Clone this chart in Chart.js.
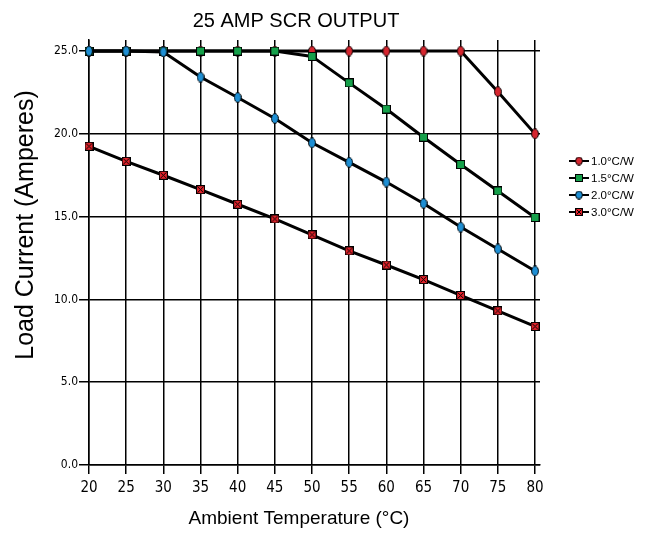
<!DOCTYPE html>
<html>
<head>
<meta charset="utf-8">
<title>25 AMP SCR OUTPUT</title>
<script src="https://cdn.jsdelivr.net/npm/chart.js@4/dist/chart.umd.min.js"></script>
<style>
    html, body { margin: 0; padding: 0; background: #fff; }
    #wrap { width: 648px; height: 533px; }
</style>
</head>
<body>
<div id="wrap"><canvas id="scrGraph"></canvas></div>
<script>
// values
const chartTitle = "25 AMP SCR OUTPUT";
const xTitle = "Ambient Temperature (°C)";
const yTitle = "Load Current (Amperes)";
const temps = [20, 25, 30, 35, 40, 45, 50, 55, 60, 65, 70, 75, 80];
const amps10 = [25, 25, 25, 25, 25, 25, 25, 25, 25, 25, 25, 22.55, 20.0];
const amps15 = [25, 25, 25, 25, 25, 25, 24.68, 23.08, 21.5, 19.8, 18.15, 16.55, 14.95];
const amps20 = [25, 25, 24.95, 23.43, 22.2, 20.93, 19.46, 18.28, 17.09, 15.8, 14.37, 13.05, 11.72];
const amps30 = [19.25, 18.34, 17.5, 16.63, 15.75, 14.86, 13.9, 12.93, 12.08, 11.2, 10.24, 9.31, 8.37];
const seriesNames = ["1.0°C/W", "1.5°C/W", "2.0°C/W", "3.0°C/W"];

const narrow = '"Liberation Sans Narrow", "DejaVu Sans Condensed", "Arial Narrow", "Liberation Sans", sans-serif';
const plain = '"Liberation Sans", Arial, Helvetica, sans-serif';

// little canvas markers, used for the points and the legend
function makeMarker(kind, fill, w, h) {
    const c = document.createElement('canvas');
    c.width = w;
    c.height = h;
    const g = c.getContext('2d');
    g.fillStyle = fill;
    g.strokeStyle = '#000';
    g.lineWidth = 1;
    if (kind === 'ellipse') {
        g.beginPath();
        g.ellipse(w / 2, h / 2, w / 2 - 0.6, h / 2 - 0.6, 0, 0, Math.PI * 2);
        g.fill();
        g.stroke();
    } else {
        g.fillRect(0.5, 0.5, w - 1, h - 1);
        g.strokeRect(0.5, 0.5, w - 1, h - 1);
        if (kind === 'xbox') {
            g.beginPath();
            g.moveTo(1.5, 1.5); g.lineTo(w - 1.5, h - 1.5);
            g.moveTo(w - 1.5, 1.5); g.lineTo(1.5, h - 1.5);
            g.stroke();
        }
    }
    return c;
}

const markers = [
    makeMarker('ellipse', '#d6262f', 8, 11),
    makeMarker('square', '#15a04a', 9, 9),
    makeMarker('ellipse', '#1e8fd4', 8, 11),
    makeMarker('xbox', '#e2232b', 9, 9)
];
const legendMarkers = [
    makeMarker('ellipse', '#d6262f', 8, 9),
    makeMarker('square', '#15a04a', 8, 8),
    makeMarker('ellipse', '#1e8fd4', 8, 9),
    makeMarker('xbox', '#e2232b', 8, 8)
];

function toPoints(values) {
    return temps.map((t, i) => ({ x: t, y: values[i] }));
}

const seriesValues = [amps10, amps15, amps20, amps30];
const datasets = seriesValues.map((vals, i) => ({
    label: seriesNames[i],
    data: toPoints(vals),
    borderColor: '#000',
    borderWidth: 3,
    pointStyle: markers[i],
    pointRadius: 5,
    pointHoverRadius: 5,
    order: [4, 3, 2, 1][i], // blue over green over red, like the original
    clip: false
}));

// titles and the legend are placed by hand to sit where the original has them
const textPlugin = {
    id: 'scrText',
    afterDraw(chart) {
        const ctx = chart.ctx;
        ctx.save();
        ctx.fillStyle = '#000';
        ctx.textAlign = 'center';
        ctx.textBaseline = 'alphabetic';

        ctx.font = '20px ' + plain;
        ctx.fillText(chartTitle, 296, 27);

        ctx.font = '19px ' + plain;
        ctx.fillText(xTitle, 299, 524);

        ctx.save();
        ctx.translate(33, 225);
        ctx.rotate(-Math.PI / 2);
        ctx.font = '25px ' + plain;
        ctx.fillText(yTitle, 0, 0);
        ctx.restore();

        // legend
        const legendY = [161, 178, 195, 212];
        ctx.textAlign = 'left';
        ctx.textBaseline = 'middle';
        ctx.font = '11.5px ' + plain;
        seriesNames.forEach((name, i) => {
            const y = legendY[i];
            ctx.strokeStyle = '#000';
            ctx.lineWidth = 2;
            ctx.beginPath();
            ctx.moveTo(569, y);
            ctx.lineTo(589, y);
            ctx.stroke();
            const m = legendMarkers[i];
            ctx.drawImage(m, 579 - m.width / 2, y - m.height / 2);
            ctx.fillText(name, 591, y + 1);
        });
        ctx.restore();
    }
};

const chart = new Chart(document.getElementById('scrGraph'), {
    type: 'line',
    data: { datasets: datasets },
    options: {
        responsive: true,
        maintainAspectRatio: false,
        animation: false,
        layout: {
            padding: { left: 40, right: 108, top: 40, bottom: 28 }
        },
        plugins: {
            legend: { display: false },
            title: { display: false },
            tooltip: { enabled: false }
        },
        scales: {
            x: {
                type: 'linear',
                min: 20,
                max: 80.67,
                afterFit: (scale) => { scale.height = 40; },
                border: { color: '#000', width: 1.5 },
                grid: { color: '#000', lineWidth: 1.5, tickLength: 9 },
                ticks: {
                    stepSize: 5,
                    includeBounds: false,
                    autoSkip: false,
                    maxRotation: 0,
                    minRotation: 0,
                    padding: 5,
                    color: '#000',
                    font: { family: narrow, size: 15 }
                }
            },
            y: {
                min: 0,
                max: 25.67,
                afterFit: (scale) => { scale.width = 49; },
                border: { color: '#000', width: 1.5 },
                grid: { color: '#000', lineWidth: 1.5, tickLength: 10 },
                ticks: {
                    stepSize: 5,
                    includeBounds: false,
                    padding: 1,
                    color: '#000',
                    font: { family: narrow, size: 12 },
                    callback: (v) => v.toFixed(1)
                }
            }
        }
    },
    plugins: [textPlugin]
});
</script>
</body>
</html>
